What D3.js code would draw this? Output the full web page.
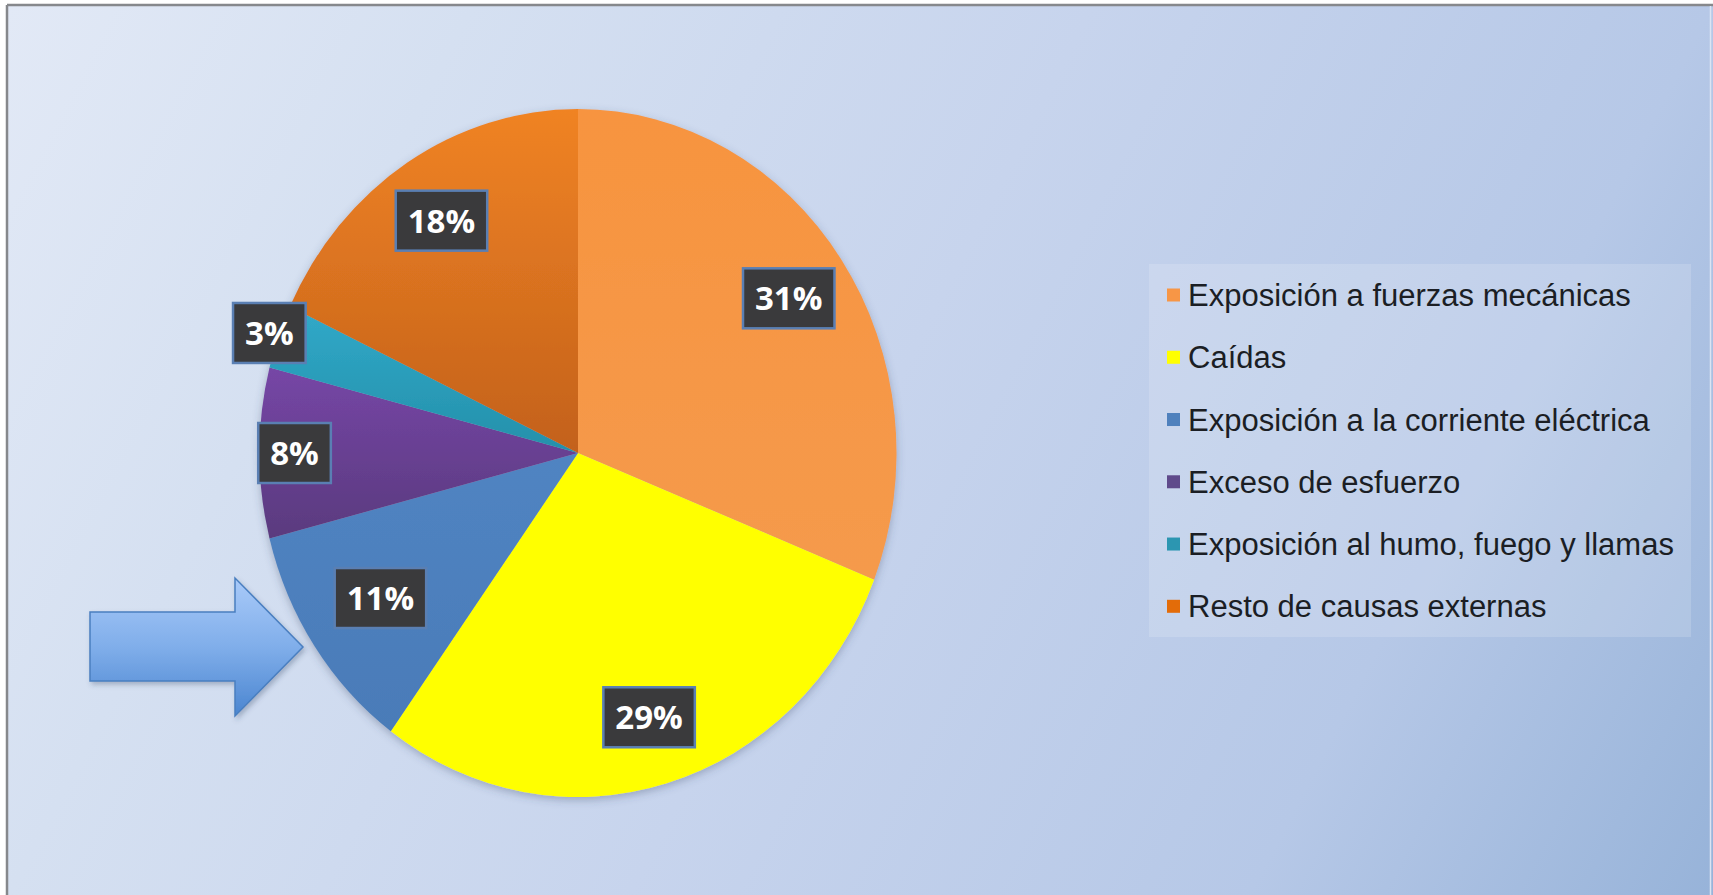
<!DOCTYPE html>
<html>
<head>
<meta charset="utf-8">
<script src="https://cdn.jsdelivr.net/npm/d3@7"></script>
<style>
  html, body { margin: 0; padding: 0; background: #ffffff; }
  svg { display: block; }
</style>
</head>
<body>
<svg id="chart" width="1713" height="895"></svg>
<script>
// Causes of external injuries (share of cases, %)
const categories = [
  "Exposición a fuerzas mecánicas",
  "Caídas",
  "Exposición a la corriente eléctrica",
  "Exceso de esfuerzo",
  "Exposición al humo, fuego y llamas",
  "Resto de causas externas"
];
const values = [31, 29, 11, 8, 3, 18];

// Slice fills: [top colour, bottom colour] of a soft vertical shade
const sliceColors = [
  ["#f7943f", "#f59a4c"],
  ["#ffff00", "#ffff00"],
  ["#5084c2", "#4a7bb8"],
  ["#7646a6", "#5a3a7e"],
  ["#31a9c9", "#2490aa"],
  ["#f08324", "#c3611b"]
];
const legendColors = ["#f79646", "#ffff00", "#4f81bd", "#5f4a8b", "#2c96b1", "#e36c09"];

// ---- layout ----
const W = 1713, H = 895;
const cx = 578, cy = 453;
const rx = 318.5, ry = 344;          // the pie is drawn slightly taller than wide
// label distance from the centre, as a fraction of the radius, per slice index
const labelRadius = { 2: 0.75, 3: 0.89, 4: 1.03 };
const defaultLabelRadius = 0.8;

const svg = d3.select("#chart");
const defs = svg.append("defs");

// background gradient
const bg = defs.append("linearGradient").attr("id", "bg")
  .attr("gradientUnits", "userSpaceOnUse")
  .attr("x1", 8).attr("y1", 6).attr("x2", W).attr("y2", H);
[["0", "#e2e9f6"], ["0.214", "#d5e0f1"], ["0.5", "#c7d4ed"], ["0.786", "#b6c8e7"], ["1", "#97b3d9"]]
  .forEach(([o, c]) => bg.append("stop").attr("offset", o).attr("stop-color", c));

// slice gradients
sliceColors.forEach((c, i) => {
  const g = defs.append("linearGradient").attr("id", "slice" + i)
    .attr("x1", 0).attr("y1", 0).attr("x2", 0).attr("y2", 1);
  g.append("stop").attr("offset", 0).attr("stop-color", c[0]);
  g.append("stop").attr("offset", 1).attr("stop-color", c[1]);
});

// arrow gradient
const ag = defs.append("linearGradient").attr("id", "arrowFill")
  .attr("x1", 0).attr("y1", 0).attr("x2", 0).attr("y2", 1);
ag.append("stop").attr("offset", 0).attr("stop-color", "#a9caf9");
ag.append("stop").attr("offset", 0.5).attr("stop-color", "#80aeea");
ag.append("stop").attr("offset", 1).attr("stop-color", "#4a85d0");

const shadow = defs.append("filter").attr("id", "shadow")
  .attr("x", "-10%").attr("y", "-10%").attr("width", "120%").attr("height", "125%");
shadow.append("feDropShadow").attr("dx", 0).attr("dy", 3).attr("stdDeviation", 4)
  .attr("flood-color", "#3a4a66").attr("flood-opacity", 0.35);

const arrowShadow = defs.append("filter").attr("id", "arrowShadow")
  .attr("x", "-10%").attr("y", "-10%").attr("width", "125%").attr("height", "130%");
arrowShadow.append("feDropShadow").attr("dx", 2).attr("dy", 3).attr("stdDeviation", 2.5)
  .attr("flood-color", "#2d3f5e").attr("flood-opacity", 0.3);

// background and frame
svg.append("rect").attr("x", 7).attr("y", 5).attr("width", W - 7).attr("height", H)
  .attr("fill", "url(#bg)");
svg.append("line").attr("x1", 7).attr("y1", 5).attr("x2", W).attr("y2", 5)
  .attr("stroke", "#86888c").attr("stroke-width", 2.5);
svg.append("line").attr("x1", 7).attr("y1", 5).attr("x2", 7).attr("y2", H)
  .attr("stroke", "#86888c").attr("stroke-width", 2.5);
svg.append("line").attr("x1", W - 2.5).attr("y1", 6).attr("x2", W - 2.5).attr("y2", H)
  .attr("stroke", "#dbe4f3").attr("stroke-width", 1.5);

// ---- pie ----
const pie = d3.pie().sort(null).value(d => d);
const arcs = pie(values);
const arc = d3.arc().innerRadius(0).outerRadius(rx);

const pieG = svg.append("g")
  .attr("filter", "url(#shadow)")
  .append("g")
  .attr("transform", `translate(${cx},${cy}) scale(1,${ry / rx})`);

pieG.selectAll("path.slice")
  .data(arcs)
  .join("path")
  .attr("class", "slice")
  .attr("d", arc)
  .attr("fill", (d, i) => `url(#slice${i})`);

// ---- data labels ----
const labelsG = svg.append("g");
arcs.forEach((d, i) => {
  const a = (d.startAngle + d.endAngle) / 2;
  const k = labelRadius[i] || defaultLabelRadius;
  const x = cx + k * rx * Math.sin(a);
  const y = cy - k * ry * Math.cos(a);
  const g = labelsG.append("g").attr("transform", `translate(${x},${y})`);
  const rect = g.append("rect");
  const t = g.append("text")
    .attr("text-anchor", "middle")
    .attr("y", 0).attr("dy", "0.36em")
    .attr("font-family", "'Open Sans', 'DejaVu Sans', sans-serif")
    .attr("font-weight", 700)
    .attr("font-size", 33)
    .attr("fill", "#ffffff")
    .text(d3.format(".0f")(d.data) + "%");
  const w = t.node().getComputedTextLength() + 24;
  const h = 60;
  rect.attr("x", -w / 2).attr("y", -h / 2).attr("width", w).attr("height", h)
    .attr("fill", "#3a3a3c")
    .attr("stroke", "#5a7fb3").attr("stroke-width", 2.5);
});

// ---- legend ----
const legend = svg.append("g");
legend.append("rect")
  .attr("x", 1149).attr("y", 264).attr("width", 542).attr("height", 373)
  .attr("fill", "#ffffff").attr("fill-opacity", 0.16);

const rowY = d3.scalePoint().domain(categories).range([295, 606.3]);
const item = legend.selectAll("g.item")
  .data(categories)
  .join("g")
  .attr("class", "item")
  .attr("transform", d => `translate(0,${rowY(d)})`);
item.append("rect")
  .attr("x", 1167).attr("y", -6.5).attr("width", 13).attr("height", 13)
  .attr("fill", (d, i) => legendColors[i]);
item.append("text")
  .attr("x", 1188).attr("y", 0).attr("dy", "0.36em")
  .attr("font-family", "'Liberation Sans', Arial, sans-serif")
  .attr("font-size", 31)
  .attr("fill", "#1b1e24")
  .text(d => d);

// ---- pointer arrow toward the electric-current slice ----
const arrow = d3.path();
arrow.moveTo(90, 612);
arrow.lineTo(235, 612);
arrow.lineTo(235, 578);
arrow.lineTo(303, 647);
arrow.lineTo(235, 716);
arrow.lineTo(235, 681);
arrow.lineTo(90, 681);
arrow.closePath();
svg.append("path")
  .attr("d", arrow.toString())
  .attr("fill", "url(#arrowFill)")
  .attr("stroke", "#4a7fc0").attr("stroke-width", 1.5)
  .attr("stroke-linejoin", "miter")
  .attr("filter", "url(#arrowShadow)");
</script>
</body>
</html>
